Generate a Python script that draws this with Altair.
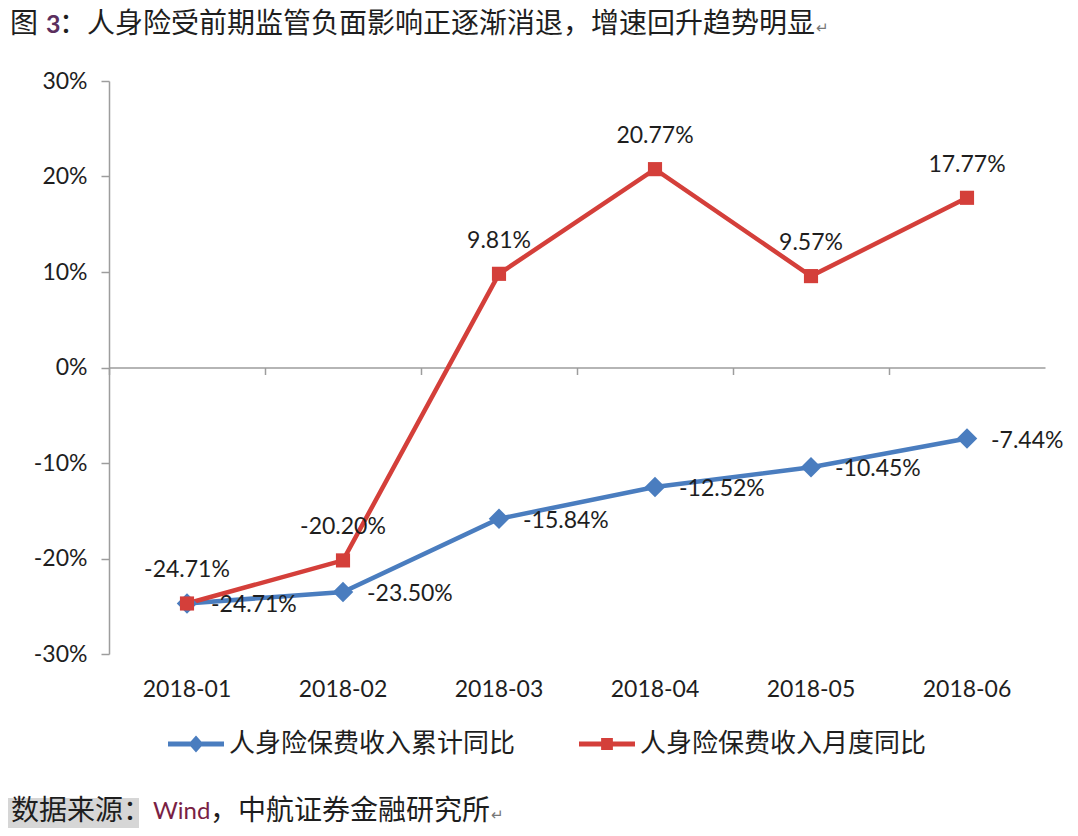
import altair as alt
import pandas as pd

# ---------------- data ----------------
months = ["2018-01", "2018-02", "2018-03", "2018-04", "2018-05", "2018-06"]
cum_yoy = [-24.71, -23.50, -15.84, -12.52, -10.45, -7.44]   # 人身险保费收入累计同比 (%)
mon_yoy = [-24.71, -20.20, 9.81, 20.77, 9.57, 17.77]        # 人身险保费收入月度同比 (%)
series_names = ["人身险保费收入累计同比", "人身险保费收入月度同比"]
y_ticks = [-0.3, -0.2, -0.1, 0.0, 0.1, 0.2, 0.3]

title_a = "图"
title_num = "3"
title_rest = "：人身险受前期监管负面影响正逐渐消退，增速回升趋势明显"
source_a = "数据来源："
source_b = "Wind"
source_c = "，中航证券金融研究所"
ret_mark = "↵"

# ---------------- styles ----------------
BLUE = "#4a7dbf"
RED = "#d43f3a"
AXIS_GREY = "#9d9d9d"
TXT = "#1e1e1e"
NUM_FONT = "Lato"
CJK_FONT = "Noto Sans CJK SC"
legend_paths = [
    "M-1,-0.09L-0.19,-0.09L0,-0.3L0.19,-0.09L1,-0.09L1,0.09L0.19,0.09L0,0.3L-0.19,0.09L-1,0.09Z",
    "M-1,-0.09L-0.21,-0.09L-0.21,-0.21L0.21,-0.21L0.21,-0.09L1,-0.09L1,0.09L0.21,0.09L0.21,0.21L-0.21,0.21L-0.21,0.09L-1,0.09Z",
]

rows = []
for s, vals in zip(series_names, [cum_yoy, mon_yoy]):
    for m, v in zip(months, vals):
        rows.append({"month": m, "series": s, "value": v / 100.0, "label": f"{v:.2f}%"})
df = pd.DataFrame(rows)
blue_df = df[df["series"] == series_names[0]]
red_df = df[df["series"] == series_names[1]]

x_scale = alt.Scale(type="band", domain=months, paddingInner=0, paddingOuter=0)
y_enc = alt.Y(
    "value:Q",
    scale=alt.Scale(domain=[-0.3, 0.3], nice=False, zero=False),
    axis=alt.Axis(
        values=y_ticks, format=".0%", title=None, grid=False,
        labelExpr="replace(datum.label, '\u2212', '-')",
        labelFont=NUM_FONT, labelFontSize=23, labelColor=TXT, labelPadding=14,
        domainColor=AXIS_GREY, domainWidth=1.5, tickColor=AXIS_GREY, tickSize=8, tickWidth=1.5,
    ),
)
color_scale = alt.Scale(domain=series_names, range=[BLUE, RED])


def xenc(axis):
    return alt.X("month:N", sort=months, scale=x_scale, bandPosition=0.5, axis=axis)


label_axis = alt.Axis(
    orient="bottom", title=None, domain=False, ticks=False, grid=False,
    labelAngle=0, labelFont=NUM_FONT, labelFontSize=23, labelColor=TXT, labelPadding=24,
)
zero_axis = alt.Axis(
    orient="bottom", title=None, labels=False, grid=False, offset=-286.5, zindex=0,
    domain=True, domainColor=AXIS_GREY, domainWidth=1.5,
    ticks=True, tickColor=AXIS_GREY, tickWidth=1.5, tickSize=7, bandPosition=0,
)

blue_line = alt.Chart(blue_df).mark_line(strokeWidth=4.5, color=BLUE).encode(
    x=xenc(label_axis), y=y_enc)
blue_pts = alt.Chart(blue_df).mark_point(shape="diamond", size=420, filled=True, opacity=1, color=BLUE).encode(
    x=xenc(None), y=y_enc)
red_line = alt.Chart(red_df).mark_line(strokeWidth=4.5, color=RED).encode(
    x=xenc(zero_axis), y=y_enc)
red_pts = alt.Chart(red_df).mark_point(shape="square", size=200, filled=True, opacity=1, color=RED).encode(
    x=xenc(None), y=y_enc)

blue_txt = alt.Chart(blue_df).mark_text(
    align="left", baseline="middle", dx=24, dy=2, font=NUM_FONT, fontSize=23, color=TXT
).encode(x=xenc(None), y=y_enc, text="label:N")
red_txt = alt.Chart(red_df).mark_text(
    align="center", baseline="middle", dy=-33, font=NUM_FONT, fontSize=23, color=TXT
).encode(x=xenc(None), y=y_enc, text="label:N")

legend_props = dict(
    orient="none", legendX=59, legendY=635, direction="horizontal", title=None,
    labelFont=CJK_FONT, labelFontSize=26, labelColor=TXT, labelOffset=5, labelLimit=0,
    symbolSize=3136, symbolStrokeWidth=0, columnPadding=63, padding=0,
)
# legend (drawn by Vega-Lite from the scales; this layer has no rows)
legend_layer = alt.Chart(df).transform_filter("datum.value > 10").mark_point(filled=True, opacity=1).encode(
    x=xenc(None), y=y_enc,
    color=alt.Color("series:N", scale=color_scale, legend=alt.Legend(**legend_props)),
    shape=alt.Shape("series:N", scale=alt.Scale(domain=series_names, range=legend_paths),
                    legend=alt.Legend(**legend_props)),
)

one = pd.DataFrame({"k": [0]})


def txt(s, x, y, font, size, color, weight="normal"):
    return alt.Chart(one).mark_text(
        align="left", baseline="middle", font=font, fontSize=size, color=color, fontWeight=weight
    ).encode(x=alt.value(x), y=alt.value(y), text=alt.value(s))


hl = alt.Chart(one).mark_rect(color="#d6d6d6").encode(
    x=alt.value(-101), x2=alt.value(30), y=alt.value(717), y2=alt.value(749))

title_layers = [
    txt(title_a, -99, -56, CJK_FONT, 28, TXT),
    txt(title_num, -63, -56, NUM_FONT, 25, "#5b2f5e", "bold"),
    txt(title_rest, -50, -56, CJK_FONT, 28, TXT),
    txt(ret_mark, 707, -53, CJK_FONT, 15, "#777777"),
    hl,
    txt(source_a, -98, 731, CJK_FONT, 28, TXT),
    txt(source_b, 44, 731, NUM_FONT, 24, "#7a1f45"),
    txt(source_c, 101, 731, CJK_FONT, 28, TXT),
    txt(ret_mark, 382, 734, CJK_FONT, 15, "#777777"),
]

chart = alt.layer(
    blue_line, red_line, blue_pts, red_pts, blue_txt, red_txt, legend_layer, *title_layers
).resolve_axis(x="independent").properties(
    width=936, height=573,
    background="white",
    autosize=alt.AutoSizeParams(type="none"),
    padding={"left": 101, "top": 73, "right": 25, "bottom": 174},
).configure_view(strokeWidth=0, stroke="transparent")

chart.save("out.html", embed_options={"renderer": "svg", "actions": False})
